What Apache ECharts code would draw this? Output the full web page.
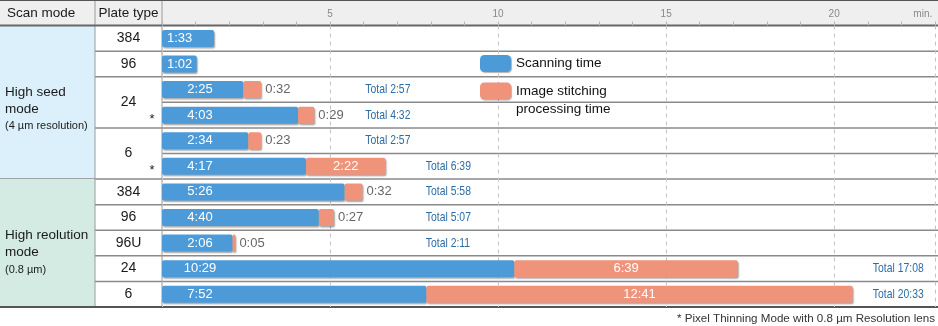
<!DOCTYPE html>
<html><head><meta charset="utf-8">
<script src="https://cdn.jsdelivr.net/npm/echarts@6/dist/echarts.min.js"></script>
<style>html,body{margin:0;padding:0;background:#fff}#c{width:938px;height:326px}</style>
</head><body><div id="c"></div>
<script>
// ---------------- data ----------------
const headers = ['Scan mode', 'Plate type'];
const scanModes = ['High seed\nmode', 'High reolution\nmode'];
const scanModeNotes = ['(4 µm resolution)', '(0.8 µm)'];
const scanModeRowSpans = [6, 5];
const plateTypes = ['384', '96', '24', '6', '384', '96', '96U', '24', '6'];
const plateRowSpans = [1, 1, 2, 2, 1, 1, 1, 1, 1];
const pixelThinningRows = [false, false, false, true, false, true, false, false, false, false, false];
const scanningTime = ['1:33', '1:02', '2:25', '4:03', '2:34', '4:17', '5:26', '4:40', '2:06', '10:29', '7:52'];
const stitchingTime = ['', '', '0:32', '0:29', '0:23', '2:22', '0:32', '0:27', '0:05', '6:39', '12:41'];
const xTickLabels = [5, 10, 15, 20];
const xMax = 23;
const xUnit = 'min.';
const seriesNames = ['Scanning time', 'Image stitching\nprocessing time'];
const footnote = '* Pixel Thinning Mode with 0.8 µm Resolution lens';

// ---------------- layout / style ----------------
const FONT = '"Liberation Sans", Arial, sans-serif';
const BLUE = '#4c9bd8', SALMON = '#ef937a', TOTAL_BLUE = '#2d6ca5';
const scanBg = ['#dcf0fb', '#d3ebe2'];
const colEdges = [0, 95, 162];
const totalLabelX = [null, null, 6.05, 6.05, 6.05, 7.85, 7.85, 7.85, 7.85, 21.15, 21.15];
const BOTTOM = 19;

// ---------------- helpers ----------------
const toSec = t => { if (!t) return 0; const [m, s] = t.split(':'); return (+m) * 60 + (+s); };
const toMin = t => toSec(t) / 60;
const fmt = sec => Math.floor(sec / 60) + ':' + String(sec % 60).padStart(2, '0');

const chart = echarts.init(document.getElementById('c'));
const W = chart.getWidth(), H = chart.getHeight();
const rowCount = scanningTime.length;
const ROW = (H - BOTTOM) / (rowCount + 1);

// table cells (drawn through a custom series on a helper grid)
const cells = [];
cells.push({ t: 'rect', x0: 0, x1: W, y0: -1, y1: 0, fill: '#efefef' });
let r = 0;
scanModes.forEach((m, i) => {
  const span = scanModeRowSpans[i];
  cells.push({ t: 'rect', x0: colEdges[0], x1: colEdges[1], y0: r, y1: r + span, fill: scanBg[i] });
  const txt = m.split('\n').map(l => '{n|' + l + '}').join('\n') + '\n{s|' + scanModeNotes[i] + '}';
  cells.push({ t: 'text', x0: colEdges[0], y0: r + span / 2, dx: 5, dy: 7 + i * 3, rich: true, text: txt, align: 'left' });
  r += span;
  if (i < scanModes.length - 1) cells.push({ t: 'line', x0: 0, x1: colEdges[1], y0: r, y1: r, stroke: '#8a8a8a', w: 1.5 });
});
r = 0;
plateTypes.forEach((p, i) => {
  const span = plateRowSpans[i];
  cells.push({ t: 'text', x0: (colEdges[1] + colEdges[2]) / 2, y0: r + span / 2, dx: 0, dy: 0, text: p, align: 'center', size: 14 });
  r += span;
  if (i < plateTypes.length - 1) cells.push({ t: 'line', x0: colEdges[1], x1: colEdges[2], y0: r, y1: r, stroke: '#8a8a8a', w: 1.5 });
});
pixelThinningRows.forEach((f, i) => {
  if (f) cells.push({ t: 'text', x0: colEdges[2] - 10, y0: i + 0.5, dx: 0, dy: 4, text: '*', align: 'center', size: 13 });
});
for (let i = 1; i < rowCount; i++) cells.push({ t: 'line', x0: colEdges[2], x1: W, y0: i, y1: i, stroke: '#8a8a8a', w: 1.5 });
cells.push({ t: 'line', x0: colEdges[1], x1: colEdges[1], y0: -1, y1: rowCount, stroke: '#9a9a9a', w: 1 });
cells.push({ t: 'line', x0: colEdges[2], x1: colEdges[2], y0: -1, y1: rowCount, stroke: '#9a9a9a', w: 1 });
cells.push({ t: 'line', x0: 0, x1: W, y0: -1, y1: -1, stroke: '#555', w: 2 });
cells.push({ t: 'line', x0: 0, x1: W, y0: 0, y1: 0, stroke: '#666', w: 2 });
cells.push({ t: 'line', x0: 0, x1: W, y0: rowCount, y1: rowCount, stroke: '#555', w: 2 });
cells.push({ t: 'text', x0: colEdges[0], y0: -0.5, dx: 7, dy: 0, text: headers[0], align: 'left', size: 13.5 });
cells.push({ t: 'text', x0: (colEdges[1] + colEdges[2]) / 2, y0: -0.5, dx: 0, dy: 0, text: headers[1], align: 'center', size: 13.5 });

function renderCell(params, api) {
  const c = cells[params.dataIndex];
  const p0 = api.coord([c.x0, c.y0]);
  if (c.t === 'rect') {
    const p1 = api.coord([c.x1, c.y1]);
    return { type: 'rect', shape: { x: p0[0], y: p0[1], width: p1[0] - p0[0], height: p1[1] - p0[1] }, style: { fill: c.fill } };
  }
  if (c.t === 'line') {
    const p1 = api.coord([c.x1, c.y1]);
    return { type: 'line', shape: { x1: p0[0], y1: p0[1], x2: p1[0], y2: p1[1] }, style: { stroke: c.stroke, lineWidth: c.w } };
  }
  const style = { text: c.text, x: p0[0] + c.dx, y: p0[1] + c.dy, align: c.align, verticalAlign: 'middle',
    fill: '#1a1a1a', font: (c.size || 13) + 'px ' + FONT };
  if (c.rich) {
    style.rich = {
      n: { fontSize: 13.5, lineHeight: 17, fontFamily: FONT, fill: '#1a1a1a' },
      s: { fontSize: 11, lineHeight: 18, fontFamily: FONT, fill: '#1a1a1a' }
    };
  }
  return { type: 'text', style };
}

const rowsCat = scanningTime.map((_, i) => String(i));
const scanData = scanningTime.map(t => {
  const v = toMin(t);
  return { value: v, label: v < 2
    ? { position: 'insideLeft', distance: 5 }
    : { position: [38, '50%'], align: 'center', verticalAlign: 'middle' } };
});
const stitchData = stitchingTime.map(t => {
  if (!t) return { value: '-' };
  const v = toMin(t);
  return { value: v, label: v > 1
    ? { position: 'inside', color: '#fff' }
    : { position: 'right', distance: 4, color: '#666' } };
});
const totalData = [];
const totalText = [];
scanningTime.forEach((t, i) => {
  if (stitchingTime[i]) {
    totalData.push([totalLabelX[i], i]);
    totalText.push('Total ' + fmt(toSec(t) + toSec(stitchingTime[i])));
  }
});

const barShadow = { shadowColor: 'rgba(0,0,0,0.35)', shadowBlur: 1.5, shadowOffsetX: 1, shadowOffsetY: 1.5 };
const legendIconStyle = { shadowColor: 'rgba(0,0,0,0.3)', shadowBlur: 1, shadowOffsetX: 1, shadowOffsetY: 1 };

const option = {
  animation: false,
  backgroundColor: '#fff',
  textStyle: { fontFamily: FONT },
  grid: [
    { left: colEdges[2], right: 0, top: ROW, bottom: BOTTOM },
    { left: 0, right: 0, top: 0, bottom: BOTTOM }
  ],
  xAxis: [
    { type: 'value', gridIndex: 0, min: 0, max: xMax, interval: 5, position: 'top',
      axisLine: { show: false }, axisTick: { show: false },
      axisLabel: { margin: 6, color: '#888', fontSize: 10, alignMaxLabel: 'right',
        formatter: v => xTickLabels.includes(v) ? String(v) : (v === xMax ? xUnit + ' ' : '') },
      splitLine: { show: true, lineStyle: { color: '#c4c4c4', type: [4, 4], width: 1 } } },
    { type: 'value', gridIndex: 0, min: 0, max: xMax, interval: 1, position: 'top',
      axisLine: { show: false }, axisLabel: { show: false }, splitLine: { show: false },
      axisTick: { show: true, length: 4, lineStyle: { color: '#b5b5b5', width: 1 } } },
    { type: 'value', gridIndex: 1, min: 0, max: W, show: false }
  ],
  yAxis: [
    { type: 'category', gridIndex: 0, data: rowsCat, inverse: true,
      axisLine: { show: false }, axisTick: { show: false }, axisLabel: { show: false }, splitLine: { show: false } },
    { type: 'value', gridIndex: 1, min: -1, max: rowCount, inverse: true, show: false }
  ],
  legend: [
    { data: [seriesNames[0]], left: 480, top: 55, padding: 0, orient: 'vertical', selectedMode: false,
      itemWidth: 31, itemHeight: 17, icon: 'roundRect', itemStyle: legendIconStyle,
      textStyle: { fontSize: 13.5, color: '#111' } },
    { data: [seriesNames[1]], left: 480, top: 64, padding: 0, orient: 'vertical', selectedMode: false,
      itemWidth: 31, itemHeight: 17, icon: 'roundRect', itemStyle: legendIconStyle,
      formatter: n => ' \n' + n,
      textStyle: { fontSize: 13.5, color: '#111', lineHeight: 18 } }
  ],
  title: { text: footnote, right: 3, bottom: 1, padding: 0,
    textStyle: { fontSize: 11.6, fontWeight: 'normal', color: '#333', fontFamily: FONT } },
  series: [
    { type: 'custom', name: 'table', xAxisIndex: 2, yAxisIndex: 1, z: -5, silent: true,
      renderItem: renderCell, data: cells.map(c => [c.x0, c.y0]) },
    { type: 'bar', name: seriesNames[0], xAxisIndex: 0, yAxisIndex: 0, stack: 'time', barWidth: 17,
      itemStyle: Object.assign({ color: BLUE, borderRadius: 2 }, barShadow),
      label: { show: true, color: '#fff', fontSize: 13, fontFamily: FONT, formatter: p => scanningTime[p.dataIndex] },
      data: scanData },
    { type: 'bar', name: seriesNames[1], xAxisIndex: 0, yAxisIndex: 0, stack: 'time', barWidth: 17,
      itemStyle: Object.assign({ color: SALMON, borderRadius: 2 }, barShadow),
      label: { show: true, fontSize: 13, fontFamily: FONT, formatter: p => stitchingTime[p.dataIndex] },
      data: stitchData },
    { type: 'custom', name: 'total', xAxisIndex: 0, yAxisIndex: 0, silent: true, z: 5,
      renderItem: (params, api) => {
        const p = api.coord([api.value(0), api.value(1)]);
        return { type: 'text', x: p[0], y: p[1], scaleX: 0.8, scaleY: 1,
          style: { text: totalText[params.dataIndex], x: 0, y: 0, align: 'left', verticalAlign: 'middle',
            fill: TOTAL_BLUE, font: '13px ' + FONT } };
      },
      data: totalData }
  ]
};
chart.setOption(option);
</script></body></html>
